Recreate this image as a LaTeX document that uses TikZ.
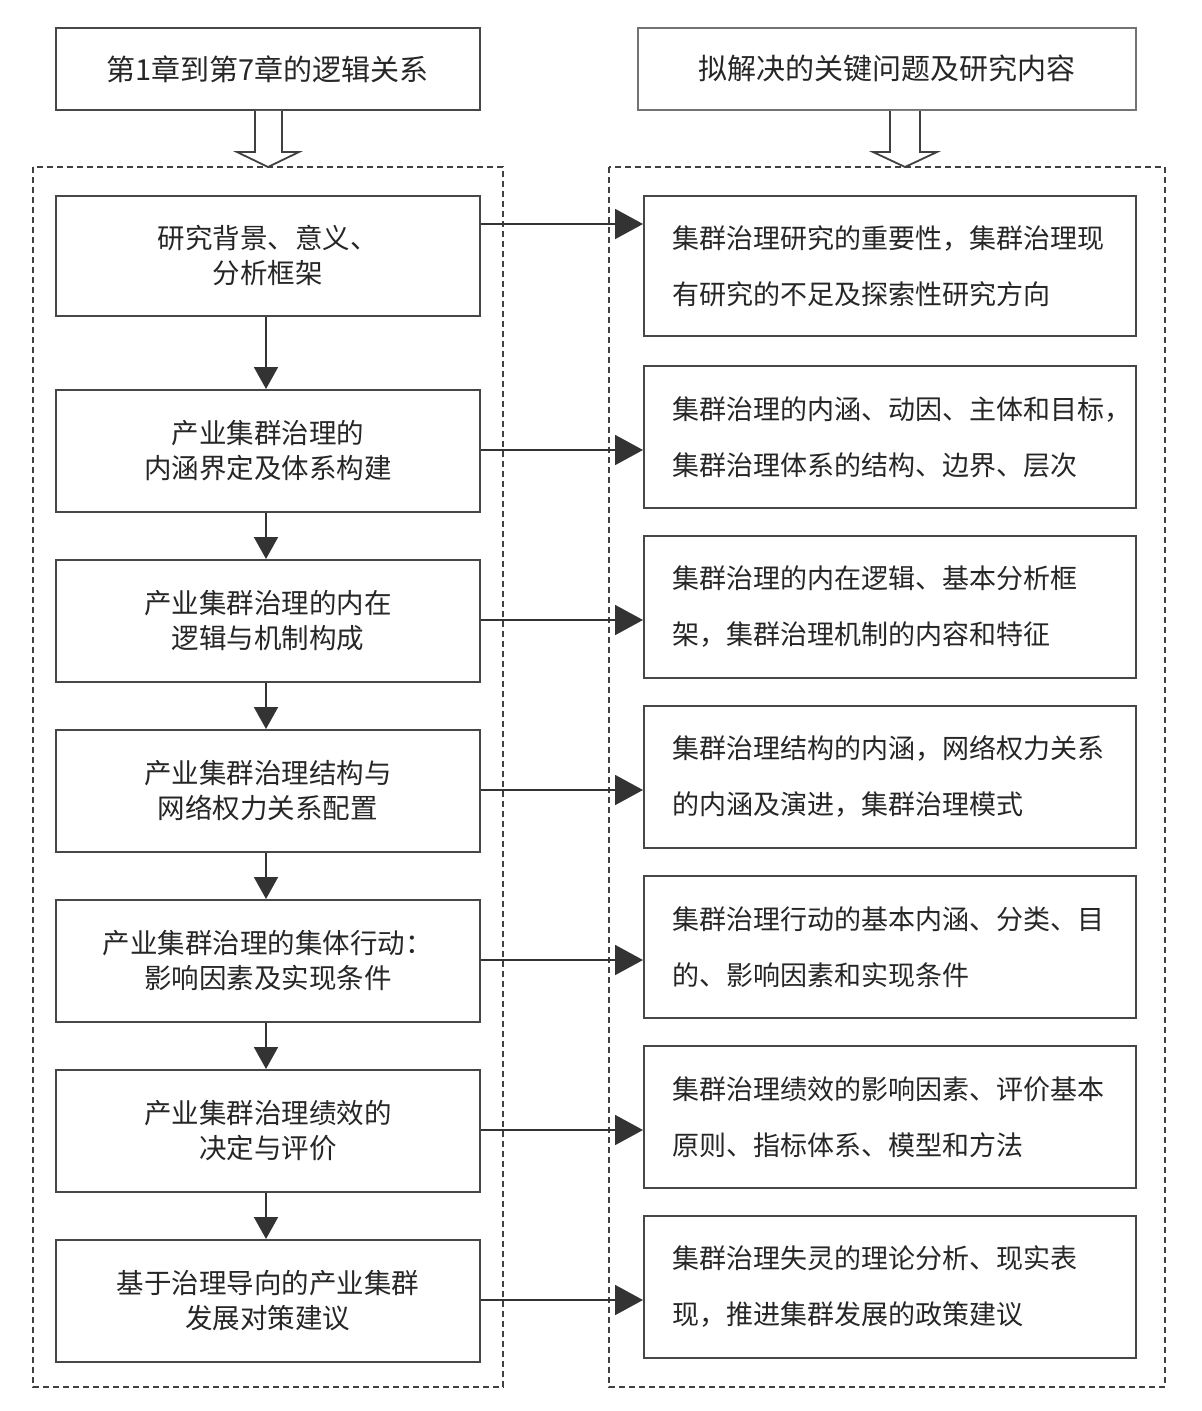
\documentclass[tikz,border=0pt]{standalone}
\usepackage{fontspec}
\newfontfamily\cjk{Noto Sans CJK SC}
\usetikzlibrary{arrows.meta}
\begin{document}
\begin{tikzpicture}[x=1pt,y={(0,-1pt)},
  box/.style={draw=black!72,line width=1.8pt,fill=white,inner sep=0pt,text=black!85},
  lbox/.style={box,anchor=north west,minimum width=424pt,minimum height=122pt,align=center,font=\cjk\fontsize{27.5}{35}\selectfont},
  rbox/.style={box,anchor=north west,minimum width=492pt,minimum height=142pt,text width=434pt,inner xsep=29pt,align=left,font=\cjk\fontsize{27}{56}\selectfont},
  topbox/.style={box,anchor=north west,minimum height=82pt,font=\cjk\fontsize{29}{34}\selectfont},
  container/.style={draw=black!75,line width=1.3pt,dash pattern=on 6pt off 4pt},
  varrow/.style={draw=black!80,line width=2pt,-{Triangle[length=22pt,width=24pt]}},
  harrow/.style={draw=black!80,line width=2pt,-{Triangle[length=28pt,width=30pt]}},
  hollow/.style={draw=black!75,line width=1.8pt,fill=white,line join=miter}
]
\useasboundingbox (0,0) rectangle (1202,1411);
% containers
\draw[container] (33,167) rectangle (503,1387);
\draw[container] (609,167) rectangle (1165,1387);
% top boxes
\node[topbox,minimum width=424pt] (LT) at (55,27) {第1章到第7章的逻辑关系};
\node[topbox,minimum width=498pt,draw=black!55] (RT) at (637,27) {拟解决的关键问题及研究内容};
% hollow arrows
\draw[hollow] (LT.south -| 255,0) -- (255,152) -- (237,152) -- (268,167) -- (299,152) -- (282,152) -- (LT.south -| 282,0);
\draw[hollow] (RT.south -| 890,0) -- (890,152) -- (873,152) -- (905,167) -- (937,152) -- (920,152) -- (RT.south -| 920,0);
% left boxes
\node[lbox,minimum height=120pt] (L1) at (55,195) {研究背景、意义、\\分析框架};
\node[lbox] (L2) at (55,389) {产业集群治理的\\内涵界定及体系构建};
\node[lbox] (L3) at (55,559) {产业集群治理的内在\\逻辑与机制构成};
\node[lbox] (L4) at (55,729) {产业集群治理结构与\\网络权力关系配置};
\node[lbox] (L5) at (55,899) {产业集群治理的集体行动：\\影响因素及实现条件};
\node[lbox] (L6) at (55,1069) {产业集群治理绩效的\\决定与评价};
\node[lbox] (L7) at (55,1239) {基于治理导向的产业集群\\发展对策建议};
% right boxes
\node[rbox,minimum height=140pt] (R1) at (643,195) {集群治理研究的重要性，集群治理现\\有研究的不足及探索性研究方向};
\node[rbox] (R2) at (643,365) {集群治理的内涵、动因、主体和目标，\\集群治理体系的结构、边界、层次};
\node[rbox] (R3) at (643,535) {集群治理的内在逻辑、基本分析框\\架，集群治理机制的内容和特征};
\node[rbox] (R4) at (643,705) {集群治理结构的内涵，网络权力关系\\的内涵及演进，集群治理模式};
\node[rbox] (R5) at (643,875) {集群治理行动的基本内涵、分类、目\\的、影响因素和实现条件};
\node[rbox] (R6) at (643,1045) {集群治理绩效的影响因素、评价基本\\原则、指标体系、模型和方法};
\node[rbox] (R7) at (643,1215) {集群治理失灵的理论分析、现实表\\现，推进集群发展的政策建议};
% vertical arrows
\foreach \a/\b in {L1/L2,L2/L3,L3/L4,L4/L5,L5/L6,L6/L7}
  \draw[varrow] (\a.south -| 266,0) -- (\b.north -| 266,0);
% horizontal arrows
\coordinate (h1) at (0,224);
\coordinate (h2) at (0,450);
\coordinate (h3) at (0,620);
\coordinate (h4) at (0,790);
\coordinate (h5) at (0,960);
\coordinate (h6) at (0,1130);
\coordinate (h7) at (0,1300);
\foreach \i in {1,...,7}
  \draw[harrow] (L\i.east |- h\i) -- (R\i.west |- h\i);
\end{tikzpicture}
\end{document}
